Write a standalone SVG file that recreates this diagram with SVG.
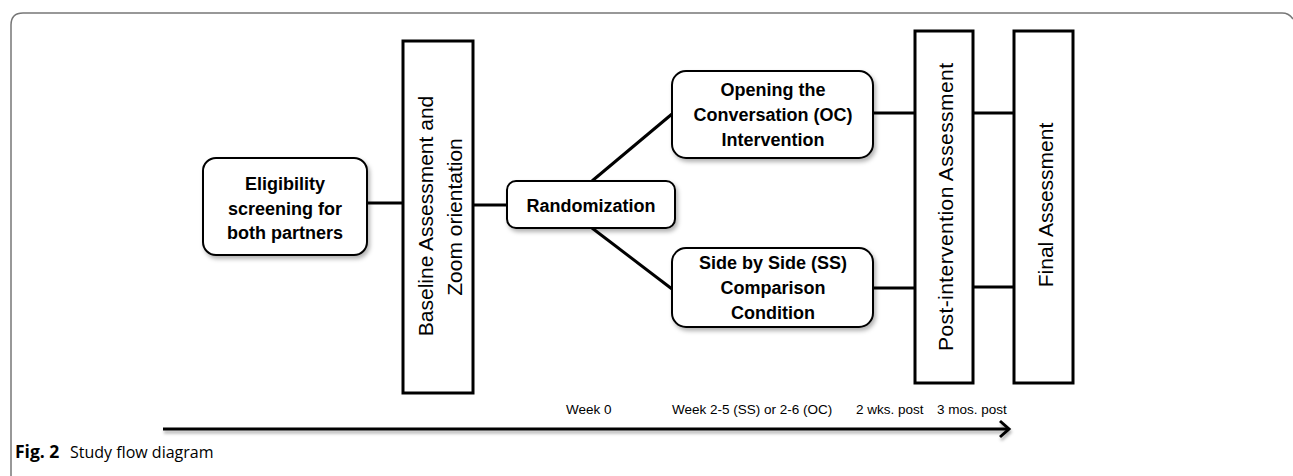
<svg xmlns="http://www.w3.org/2000/svg" width="1293" height="476" viewBox="0 0 1293 476">
<defs>
<filter id="sh" x="-10%" y="-10%" width="130%" height="130%">
<feDropShadow dx="2" dy="3" stdDeviation="2" flood-color="#000" flood-opacity="0.3"/>
</filter>
<filter id="shu" filterUnits="userSpaceOnUse" x="150" y="415" width="880" height="30">
<feDropShadow dx="1" dy="3" stdDeviation="1.5" flood-color="#000" flood-opacity="0.3"/>
</filter>
<style>
.box{fill:#fff;stroke:#000;stroke-width:2;filter:url(#sh)}
.tall{fill:#fff;stroke:#000;stroke-width:3}
.b{font-family:"Liberation Sans",Arial,sans-serif;font-weight:bold;font-size:18px;text-anchor:middle;fill:#000}
.r{font-family:"Liberation Sans",Arial,sans-serif;font-size:21px;text-anchor:middle;fill:#000}
.w{font-family:"Liberation Sans",Arial,sans-serif;font-size:13.5px;fill:#000}
.ln{stroke:#000;stroke-width:3;fill:none}
.capb{font-family:"Open Sans","Liberation Sans",sans-serif;font-size:17.5px;font-weight:bold;fill:#000}
.cap{font-family:"Open Sans","Liberation Sans",sans-serif;font-size:16px;fill:#000}
</style>
</defs>
<path d="M11,476 V25 Q11,13 23,13 H1282 Q1289,13 1293,19" fill="none" stroke="#777" stroke-width="1.5"/>
<g id="connectors">
<line class="ln" x1="367" y1="203" x2="403" y2="203"/>
<line class="ln" x1="473" y1="205" x2="507" y2="205"/>
<line class="ln" x1="592" y1="181" x2="672" y2="114"/>
<line class="ln" x1="592" y1="228" x2="672" y2="289"/>
<line class="ln" x1="873" y1="113" x2="915" y2="113"/>
<line class="ln" x1="873" y1="288" x2="915" y2="288"/>
<line class="ln" x1="973" y1="113" x2="1014" y2="113"/>
<line class="ln" x1="973" y1="287" x2="1014" y2="287"/>
</g>
<g id="eligibility">
<rect class="box" x="203" y="158" width="164" height="97" rx="13"/>
<text class="b" x="285" y="190">Eligibility</text>
<text class="b" x="285" y="215">screening for</text>
<text class="b" x="285" y="239">both partners</text>
</g>
<g id="baseline">
<rect class="tall" x="403" y="41" width="70" height="352"/>
<text class="r" transform="translate(433,216) rotate(-90)">Baseline Assessment and</text>
<text class="r" transform="translate(462,217) rotate(-90)">Zoom orientation</text>
</g>
<g id="randomization">
<rect class="box" x="507" y="181" width="168" height="47" rx="9"/>
<text class="b" x="591" y="212">Randomization</text>
</g>
<g id="oc">
<rect class="box" x="672" y="71" width="201" height="87" rx="14"/>
<text class="b" x="773" y="96">Opening the</text>
<text class="b" x="773" y="121">Conversation (OC)</text>
<text class="b" x="773" y="146">Intervention</text>
</g>
<g id="ss">
<rect class="box" x="672" y="248" width="201" height="79" rx="14"/>
<text class="b" x="773" y="269">Side by Side (SS)</text>
<text class="b" x="773" y="294">Comparison</text>
<text class="b" x="773" y="319">Condition</text>
</g>
<g id="post">
<rect class="tall" x="915" y="31" width="58" height="352"/>
<text class="r" transform="translate(953,207) rotate(-90)" textLength="288">Post-intervention Assessment</text>
</g>
<g id="final">
<rect class="tall" x="1014" y="31" width="59" height="352"/>
<text class="r" transform="translate(1053,205) rotate(-90)">Final Assessment</text>
</g>
<g id="timeline">
<g filter="url(#shu)">
<line class="ln" x1="163" y1="429" x2="1008" y2="429"/>
<polyline class="ln" points="1000,421 1009,429 1000,437"/>
</g>
<text class="w" x="566" y="414">Week 0</text>
<text class="w" x="672" y="414">Week 2-5 (SS) or 2-6 (OC)</text>
<text class="w" x="856" y="414">2 wks. post</text>
<text class="w" x="937" y="414">3 mos. post</text>
</g>
<text class="capb" x="15" y="458">Fig. 2</text>
<text class="cap" x="70" y="458">Study flow diagram</text>
</svg>
